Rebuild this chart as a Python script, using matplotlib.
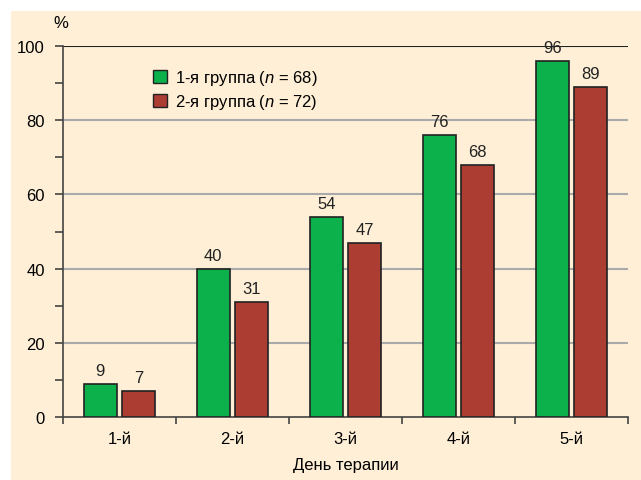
import matplotlib
matplotlib.use("Agg")
import matplotlib.pyplot as plt
from matplotlib.patches import Patch, Rectangle
from matplotlib.ticker import MultipleLocator
import numpy as np

days = ["1-й", "2-й", "3-й", "4-й", "5-й"]
group1 = [9, 40, 54, 76, 96]
group2 = [7, 31, 47, 68, 89]
labels = ["1-я группа ($\\it{n}$ = 68)", "2-я группа ($\\it{n}$ = 72)"]

FONT = "Liberation Sans"
plt.rcParams["font.family"] = [FONT, "DejaVu Sans"]
plt.rcParams["mathtext.fontset"] = "custom"
plt.rcParams["mathtext.rm"] = FONT
plt.rcParams["mathtext.it"] = FONT + ":italic"

green = "#0db14b"
red = "#ab3d33"
cream = "#feefd6"
fs = 12

fig = plt.figure(figsize=(6.41, 4.81), dpi=100)
fig.patches.append(Rectangle((11 / 641, 0), 1, 1 - 12 / 481, transform=fig.transFigure,
                             facecolor=cream, edgecolor="none", zorder=-10))
ax = fig.add_axes([63 / 641, 1 - 418 / 481, 565 / 641, 371 / 481])
ax.set_facecolor("none")

x = np.arange(len(days))
w = 0.29
b1 = ax.bar(x - 0.17, group1, w, color=green, edgecolor="#222222", linewidth=1.2, zorder=3)
b2 = ax.bar(x + 0.17, group2, w, color=red, edgecolor="#222222", linewidth=1.2, zorder=3)
for bars, vals in ((b1, group1), (b2, group2)):
    for r, v in zip(bars, vals):
        ax.text(r.get_x() + r.get_width() / 2, v + 1.5, str(v), ha="center", va="bottom",
                fontsize=fs, color="#222222")

ax.set_xlim(-0.5, 4.5)
ax.set_ylim(0, 100)
ax.yaxis.set_major_locator(MultipleLocator(20))
ax.yaxis.set_minor_locator(MultipleLocator(10))
ax.set_xticks(np.arange(-0.5, 5, 1))
ax.set_xticklabels([])
ax.set_xticks(x, minor=True)
ax.set_xticklabels(days, minor=True)
ax.tick_params(axis="x", which="minor", length=0, pad=10, labelsize=fs)
ax.tick_params(axis="x", which="major", length=5, width=1.2, color="#444444")
ax.tick_params(axis="y", which="both", length=6, width=1.2, color="#444444", labelsize=fs, pad=7)

for y in range(20, 100, 20):
    ax.axhline(y, color="#aaaaaa", linewidth=1.5, zorder=1)
ax.axhline(100, color="#222222", linewidth=1.5, zorder=2)

for s in ["right", "top"]:
    ax.spines[s].set_visible(False)
for s in ["left", "bottom"]:
    ax.spines[s].set_color("#444444")
    ax.spines[s].set_linewidth(1.2)

ax.text(-0.003, 1.043, "%", transform=ax.transAxes, ha="center", va="bottom", fontsize=fs)
ax.set_xlabel("День терапии", fontsize=fs, labelpad=8)

handles = [Patch(facecolor=green, edgecolor="#222222"), Patch(facecolor=red, edgecolor="#222222")]
ax.legend(handles, labels, loc="upper left", bbox_to_anchor=(0.145, 0.962), frameon=False,
          fontsize=fs, handlelength=0.8, handleheight=0.8, handletextpad=0.5,
          labelspacing=0.3, borderpad=0)

fig.savefig("out.png", dpi=100)
